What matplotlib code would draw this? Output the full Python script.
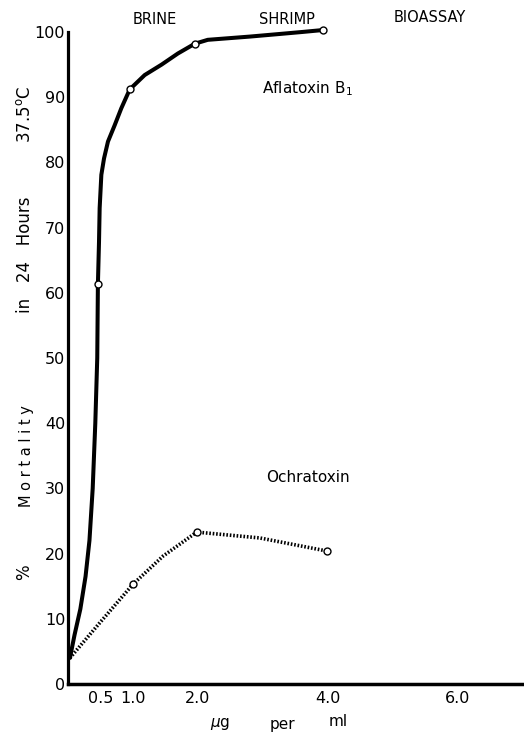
import matplotlib
matplotlib.use("Agg")
import matplotlib.pyplot as plt

plt.rcParams['font.family'] = ['DejaVu Sans']

# Aflatoxin B1 -- measured points and the hand-drawn curve through them
afla_x = [0.46, 0.95, 1.95, 3.92]
afla_y = [61.3, 91.2, 98.2, 100.3]
afla_curve_x = [0.03, 0.1, 0.19, 0.27, 0.33, 0.38, 0.42, 0.45, 0.46, 0.477, 0.487, 0.513, 0.554, 0.615,
                0.718, 0.82, 0.95, 1.18, 1.44, 1.69, 1.95, 2.15, 2.8, 3.26, 3.6, 3.92]
afla_curve_y = [4, 7.5, 11.5, 16.5, 22, 30, 40, 50, 61.3, 67.8, 73.0, 78.1, 80.6, 83.2,
                85.7, 88.3, 91.2, 93.4, 95.0, 96.7, 98.2, 98.8, 99.3, 99.7, 100.0, 100.3]

# Ochratoxin
ochra_x = [1.0, 1.98, 3.98]
ochra_y = [15.3, 23.3, 20.4]
ochra_curve_x = [0.03, 0.49, 1.0, 1.46, 1.98, 2.95, 3.98]
ochra_curve_y = [4, 9.4, 15.3, 19.6, 23.3, 22.4, 20.4]

xticks = [0.5, 1.0, 2.0, 4.0, 6.0]
xtick_labels = ['0.5', '1.0', '2.0', '4.0', '6.0']
yticks = [0, 10, 20, 30, 40, 50, 60, 70, 80, 90, 100]

W, H = 524, 734
fig = plt.figure(figsize=(W / 100, H / 100), dpi=100)
ax = fig.add_axes([68 / W, 50 / H, (W - 68) / W, 652 / H])
ax.set_xlim(0, (W - 68) / 65)
ax.set_ylim(0, 100)

ax.plot(afla_curve_x, afla_curve_y, color='black', lw=2.9, solid_capstyle='round',
        solid_joinstyle='round', zorder=3, clip_on=False)
ax.plot(afla_x, afla_y, 'o', ms=5, mfc='white', mec='black', mew=1, zorder=4, clip_on=False)
ax.plot(ochra_curve_x, ochra_curve_y, color='black', lw=2.6, ls=(0, (0.45, 0.5)), zorder=3)
ax.plot(ochra_x, ochra_y, 'o', ms=5, mfc='white', mec='black', mew=1, zorder=4)

for s in ['top', 'right']:
    ax.spines[s].set_visible(False)
ax.spines['left'].set_linewidth(2.3)
ax.spines['bottom'].set_linewidth(2.5)

ax.set_xticks(xticks)
ax.set_xticklabels(xtick_labels)
ax.set_yticks(yticks)
ax.tick_params(length=0, labelsize=11.5)
ax.tick_params(axis='y', pad=2)
ax.tick_params(axis='x', pad=5)

def ftext(px, py, s, size=11, **kw):
    fig.text(px / W, 1 - py / H, s, ha='center', va='center', fontsize=size, **kw)

ftext(155, 20, 'BRINE', 10.5)
ftext(287, 19, 'SHRIMP', 10.5)
ftext(430, 18, 'BIOASSAY', 10.5)
ftext(307, 89, 'Aflatoxin B$_1$')
ftext(308, 478, 'Ochratoxin')

ftext(25, 114, '37.5$^{\\rm o}$C', 12, rotation=90)
ftext(25, 255, 'in   24   Hours', 12, rotation=90)
ftext(26, 456, 'M o r t a l i t y', 10.5, rotation=90)
ftext(24, 572, '%', 12, rotation=90)

ftext(220, 724, '$\\mu$g')
ftext(282, 724, 'per')
ftext(338, 722, 'ml')

fig.savefig('out.png', dpi=100)
